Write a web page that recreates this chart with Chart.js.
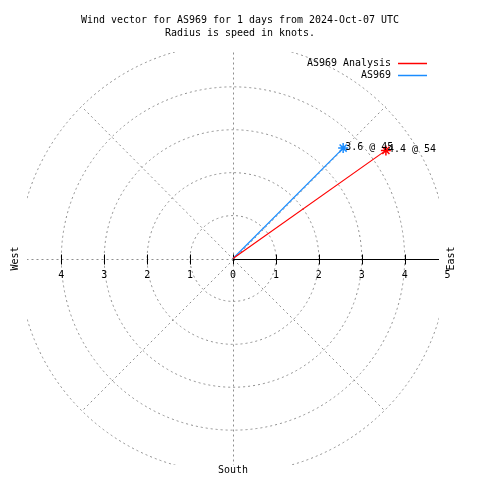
<!DOCTYPE html>
<html>
<head>
<meta charset="utf-8">
<script src="https://cdn.jsdelivr.net/npm/chart.js@4/dist/chart.umd.min.js"></script>
<style>
  html, body { margin: 0; padding: 0; background: #fff; }
  #wrap { width: 480px; height: 480px; }
</style>
</head>
<body>
<div id="wrap"><canvas id="windChart" width="480" height="480"></canvas></div>
<script>
// series: speed in knots, direction in degrees (from north, clockwise)
const seriesNames = ["AS969 Analysis", "AS969"];
const speeds = [4.36, 3.63];
const directions = [54.8, 45];

// grid
const rings = [1, 2, 3, 4, 5];
const spokes = [0, 45, 90, 135, 180, 225, 270, 315];
const westTicks = [4, 3, 2, 1];
const eastTicks = [0, 1, 2, 3, 4, 5];
const axisMax = 4.8;

const titleLines = ["Wind vector for AS969 for 1 days from 2024-Oct-07 UTC", "Radius is speed in knots."];

const FONT = "11px 'DejaVu Sans Mono', monospace";
const GRID = "#8e8e8e";

function toXY(speed, dir) {
    const rad = dir * Math.PI / 180;
    return { x: speed * Math.sin(rad), y: speed * Math.cos(rad) };
}

function vectorData(i) {
    return [{ x: 0, y: 0 }, toXY(speeds[i], directions[i])];
}

// keep 6px per char, like the bitmap font of the original
function drawText(ctx, txt, x, y, rot) {
    ctx.save();
    ctx.translate(x, y);
    if (rot) ctx.rotate(rot);
    ctx.scale(0.906, 1);
    ctx.fillText(txt, 0, 0);
    ctx.restore();
}

const polarGrid = {
    id: "polarGrid",
    beforeDatasetsDraw(chart) {
        const ctx = chart.ctx;
        const xs = chart.scales.x, ys = chart.scales.y;
        const a = chart.chartArea;
        const cx = xs.getPixelForValue(0), cy = ys.getPixelForValue(0);
        const unit = xs.getPixelForValue(1) - cx;

        ctx.save();
        ctx.beginPath();
        ctx.rect(a.left, a.top, a.right - a.left, a.bottom - a.top);
        ctx.clip();
        ctx.strokeStyle = GRID;
        ctx.lineWidth = 1;
        ctx.setLineDash([2, 3]);
        rings.forEach(r => {
            ctx.beginPath();
            ctx.arc(cx, cy, r * unit, 0, Math.PI * 2);
            ctx.stroke();
        });
        spokes.forEach(d => {
            // axis spokes run to the frame, diagonals stop at the outer ring
            const len = d % 90 === 0 ? rings[rings.length - 1] + 1 : rings[rings.length - 1];
            const p = toXY(len, d);
            ctx.beginPath();
            ctx.moveTo(Math.round(cx) + 0.5, Math.round(cy) + 0.5);
            ctx.lineTo(Math.round(xs.getPixelForValue(p.x)) + 0.5, Math.round(ys.getPixelForValue(p.y)) + 0.5);
            ctx.stroke();
        });
        ctx.restore();

        // east radius axis
        ctx.save();
        ctx.strokeStyle = "#000";
        ctx.lineWidth = 1;
        const ay = Math.round(cy) + 0.5;
        ctx.beginPath();
        ctx.moveTo(cx, ay);
        ctx.lineTo(xs.getPixelForValue(axisMax), ay);
        ctx.stroke();
        const tickAt = v => {
            const px = Math.round(xs.getPixelForValue(v)) + 0.5;
            ctx.beginPath();
            ctx.moveTo(px, ay - 5);
            ctx.lineTo(px, ay + 5);
            ctx.stroke();
        };
        westTicks.forEach(v => tickAt(-v));
        eastTicks.filter(v => v <= axisMax).forEach(v => tickAt(v));

        ctx.fillStyle = "#000";
        ctx.font = FONT;
        ctx.textAlign = "center";
        ctx.textBaseline = "middle";
        westTicks.forEach(v => drawText(ctx, String(v), xs.getPixelForValue(-v), cy + 17));
        eastTicks.forEach(v => drawText(ctx, String(v), xs.getPixelForValue(v), cy + 17));
        ctx.restore();
    },
    afterDatasetsDraw(chart) {
        const ctx = chart.ctx;
        const xs = chart.scales.x, ys = chart.scales.y;
        const cx = xs.getPixelForValue(0), cy = ys.getPixelForValue(0);
        ctx.save();
        ctx.fillStyle = "#000";
        ctx.font = FONT;
        ctx.textBaseline = "middle";

        // end labels
        ctx.textAlign = "left";
        chart.data.datasets.forEach((ds, i) => {
            const pt = chart.getDatasetMeta(i).data[1];
            const txt = speeds[i].toFixed(1) + " @ " + Math.floor(directions[i]);
            drawText(ctx, txt, pt.x + 2, pt.y - 1);
        });

        // title
        ctx.textAlign = "center";
        drawText(ctx, titleLines[0], 240, 20);
        drawText(ctx, titleLines[1], 240, 33);

        // compass words
        drawText(ctx, "South", cx, 470);
        drawText(ctx, "West", 15, cy, -Math.PI / 2);
        drawText(ctx, "East", 451, cy, -Math.PI / 2);

        // legend
        chart.data.datasets.forEach((ds, i) => {
            const y = 63 + i * 12;
            ctx.textAlign = "right";
            drawText(ctx, ds.label, 391, y);
            ctx.strokeStyle = ds.borderColor;
            ctx.lineWidth = 1.5;
            ctx.beginPath();
            ctx.moveTo(398, y + 0.5);
            ctx.lineTo(427, y + 0.5);
            ctx.stroke();
        });
        ctx.restore();
    }
};

const colors = ["#ff0000", "#1a8cff"];

new Chart(document.getElementById("windChart"), {
    type: "scatter",
    data: {
        datasets: seriesNames.map((name, i) => ({
            label: name,
            data: vectorData(i),
            showLine: true,
            borderColor: colors[i],
            backgroundColor: colors[i],
            borderWidth: 1.2,
            pointStyle: "star",
            pointRadius: [0, 5],
            pointBorderWidth: 1.5,
            order: i
        }))
    },
    options: {
        responsive: false,
        animation: false,
        layout: { padding: { left: 27, right: 41, top: 52, bottom: 15 } },
        scales: {
            x: { type: "linear", min: -axisMax, max: axisMax, display: false },
            y: { type: "linear", min: -axisMax, max: axisMax, display: false }
        },
        plugins: {
            legend: { display: false },
            tooltip: { enabled: false }
        }
    },
    plugins: [polarGrid]
});
</script>
</body>
</html>
